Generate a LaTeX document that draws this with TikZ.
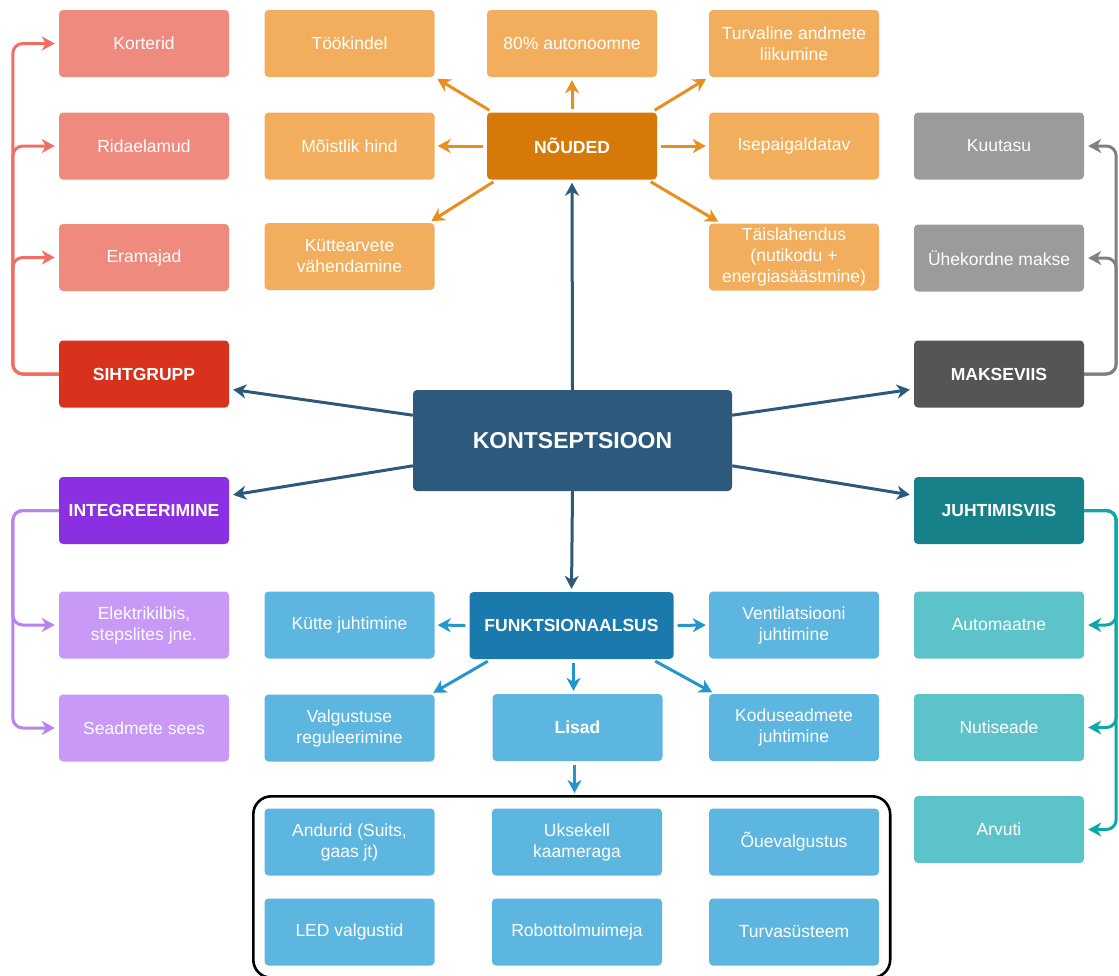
\documentclass[tikz,border=0pt]{standalone}
\usepackage{fontspec}
\setmainfont{Liberation Sans}
\usepackage{tikz}
\usetikzlibrary{arrows.meta,positioning,fit}

\definecolor{salmon}{HTML}{EE8A7E}
\definecolor{sihtred}{HTML}{D8321D}
\definecolor{lightorange}{HTML}{F2AE5C}
\definecolor{darkorange}{HTML}{D67908}
\definecolor{orangeline}{HTML}{E98F1F}
\definecolor{lightgray}{HTML}{9B9B9B}
\definecolor{darkgray}{HTML}{555555}
\definecolor{kontsblue}{HTML}{2D5A7C}
\definecolor{darkpurple}{HTML}{8B2FE2}
\definecolor{lightpurple}{HTML}{C899F6}
\definecolor{lightblue}{HTML}{5DB6E0}
\definecolor{funkblue}{HTML}{1A79AD}
\definecolor{blueline}{HTML}{2596CC}
\definecolor{lightteal}{HTML}{5DC3CB}
\definecolor{darkteal}{HTML}{178189}

\begin{document}
\begin{tikzpicture}[
    x=1pt, y=-1pt,
    box/.style={rounded corners=4pt, minimum width=170pt, minimum height=67pt, inner sep=2pt,
        text=white, font=\fontsize{17.5}{21}\selectfont, align=center},
    head/.style={box, font=\fontsize{17.5}{21}\selectfont\bfseries},
    arr/.style={-{Stealth[length=13pt, width=14pt, inset=4pt]}, line width=3pt},
    bracket/.style={arr, rounded corners=10pt, shorten >=4pt}
]
    \useasboundingbox (0,0) rectangle (1119,975);

    % Central node
    \node[box, fill=kontsblue, minimum width=319pt, minimum height=101pt,
        font=\fontsize{23}{27}\selectfont\bfseries] (konts) at (572.5,440.5) {KONTSEPTSIOON};

    % Sihtgrupp
    \node[box, fill=salmon] (korterid) at (144,43.5) {Korterid};
    \node[box, fill=salmon] (ridaelamud) at (144,146) {Ridaelamud};
    \node[box, fill=salmon] (eramajad) at (144,257.5) {Eramajad};
    \node[head, fill=sihtred] (sihtgrupp) at (144,374) {SIHTGRUPP};

    % Integreerimine
    \node[head, fill=darkpurple] (integ) at (144,510.5) {INTEGREERIMINE};
    \node[box, fill=lightpurple] (elektri) at (144,625) {Elektrikilbis,\\stepslites jne.};
    \node[box, fill=lightpurple] (seadmete) at (144,728) {Seadmete sees};

    % Noeuded
    \node[head, fill=darkorange] (nouded) at (572,146) {NÕUDED};
    \node[box, fill=lightorange] (tookindel) at (349.5,43.5) {Töökindel};
    \node[box, fill=lightorange] (autonoomne) at (572,43.5) {80\% autonoomne};
    \node[box, fill=lightorange] (turvaline) at (794,43.5) {Turvaline andmete\\liikumine};
    \node[box, fill=lightorange] (moistlik) at (349.5,146) {Mõistlik hind};
    \node[box, fill=lightorange] (isepaig) at (794,146) {Isepaigaldatav};
    \node[box, fill=lightorange] (kutte) at (349.5,256.5) {Küttearvete\\vähendamine};
    \node[box, fill=lightorange] (taislah) at (794,257) {Täislahendus\\(nutikodu +\\energiasäästmine)};

    % Makseviis
    \node[box, fill=lightgray] (kuutasu) at (999,146) {Kuutasu};
    \node[box, fill=lightgray] (uhekordne) at (999,258) {Ühekordne makse};
    \node[head, fill=darkgray] (makseviis) at (999,374) {MAKSEVIIS};

    % Juhtimisviis
    \node[head, fill=darkteal] (juhtimis) at (999,510.5) {JUHTIMISVIIS};
    \node[box, fill=lightteal] (automaatne) at (999,625) {Automaatne};
    \node[box, fill=lightteal] (nutiseade) at (999,727.5) {Nutiseade};
    \node[box, fill=lightteal] (arvuti) at (999,829.5) {Arvuti};

    % Funktsionaalsus
    \node[head, fill=funkblue, minimum width=204pt] (funkts) at (571.5,625.5) {FUNKTSIONAALSUS};
    \node[box, fill=lightblue] (kuttejuht) at (349.5,625) {Kütte juhtimine};
    \node[box, fill=lightblue] (ventil) at (794,625) {Ventilatsiooni\\juhtimine};
    \node[box, fill=lightblue] (valgustuse) at (349.5,728) {Valgustuse\\reguleerimine};
    \node[head, fill=lightblue] (lisad) at (577.5,727.5) {Lisad};
    \node[box, fill=lightblue] (kodusead) at (794,727.5) {Koduseadmete\\juhtimine};

    % Lisad
    \node[box, fill=lightblue] (andurid) at (349.5,842) {Andurid (Suits,\\gaas jt)};
    \node[box, fill=lightblue] (uksekell) at (577,842) {Uksekell\\kaameraga};
    \node[box, fill=lightblue] (ouevalg) at (794,842) {Õuevalgustus};
    \node[box, fill=lightblue] (led) at (349.5,932) {LED valgustid};
    \node[box, fill=lightblue] (robot) at (577,932) {Robottolmuimeja};
    \node[box, fill=lightblue] (turvasys) at (794,932) {Turvasüsteem};
    \node[draw, line width=2.6pt, rounded corners=18pt, fit=(andurid)(turvasys),
        inner xsep=11pt, inner ysep=12pt] (lisadgrupp) {};

    % Edges from the centre
    \draw[arr, kontsblue, shorten >=3pt] (konts.north) -- (nouded.south);
    \draw[arr, kontsblue, shorten >=3pt] (konts.south) -- (funkts.north);
    \draw[arr, kontsblue, shorten >=4pt] (konts.171) -- (sihtgrupp.-10);
    \draw[arr, kontsblue, shorten >=4pt] (konts.189) -- (integ.10);
    \draw[arr, kontsblue, shorten >=4pt] (konts.9) -- (makseviis.190);
    \draw[arr, kontsblue, shorten >=4pt] (konts.-9) -- (juhtimis.170);

    % Noeuded edges
    \draw[arr, orangeline, shorten <=3pt, shorten >=3pt] (nouded.north) -- (autonoomne.south);
    \draw[arr, orangeline, shorten <=4pt, shorten >=3pt] ([xshift=6pt]nouded.north west) -- (tookindel.south east);
    \draw[arr, orangeline, shorten <=4pt, shorten >=3pt] ([xshift=-6pt]nouded.north east) -- (turvaline.south west);
    \draw[arr, orangeline, shorten <=4pt, shorten >=3pt] (nouded.west) -- (moistlik.east);
    \draw[arr, orangeline, shorten <=4pt, shorten >=3pt] (nouded.east) -- (isepaig.west);
    \draw[arr, orangeline, shorten <=4pt, shorten >=3pt] ([xshift=10pt]nouded.south west) -- ([xshift=-6pt]kutte.north east);
    \draw[arr, orangeline, shorten <=4pt, shorten >=3pt] ([xshift=-10pt]nouded.south east) -- ([xshift=12pt]taislah.north west);

    % Funktsionaalsus edges
    \draw[arr, blueline, shorten <=4pt, shorten >=3pt] (funkts.west) -- (kuttejuht.east);
    \draw[arr, blueline, shorten <=4pt, shorten >=3pt] (funkts.east) -- (ventil.west);
    \draw[arr, blueline, shorten <=4pt, shorten >=3pt] ([xshift=22pt]funkts.south west) -- ([xshift=-4pt]valgustuse.north east);
    \draw[arr, blueline, shorten <=4pt, shorten >=3pt] ([xshift=-22pt]funkts.south east) -- ([xshift=6pt]kodusead.north west);
    \draw[arr, blueline, shorten <=4pt, shorten >=3pt] ([xshift=2pt]funkts.south) -- ([xshift=2pt]funkts.south |- lisad.north);
    \draw[arr, blueline, shorten <=4pt, shorten >=2pt] ([xshift=-3pt]lisad.south) -- ([xshift=-3pt]lisad.south |- lisadgrupp.north);

    % Brackets
    \foreach \n in {korterid, ridaelamud, eramajad}
        \draw[bracket, salmon!80!red] (sihtgrupp.west) -- ++(-46,0) |- (\n.west);
    \foreach \n in {elektri, seadmete}
        \draw[bracket, darkpurple!60!white] (integ.west) -- ++(-46,0) |- (\n.west);
    \foreach \n in {kuutasu, uhekordne}
        \draw[bracket, gray] (makseviis.east) -- ++(32,0) |- (\n.east);
    \foreach \n in {automaatne, nutiseade, arvuti}
        \draw[bracket, darkteal!70!cyan] (juhtimis.east) -- ++(32,0) |- (\n.east);
\end{tikzpicture}
\end{document}
